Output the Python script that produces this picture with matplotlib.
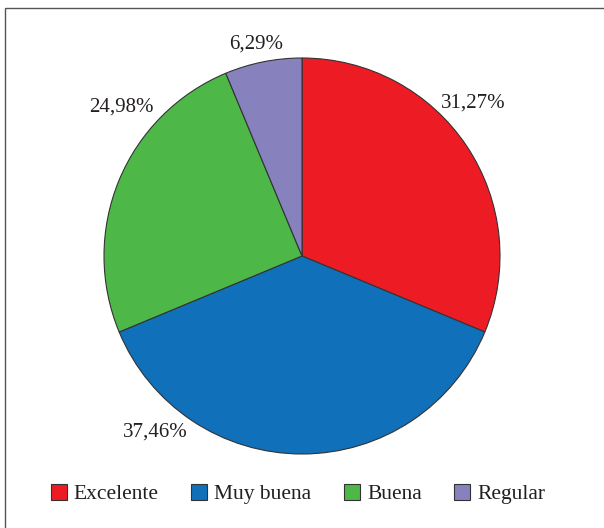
import matplotlib.pyplot as plt
from matplotlib.patches import Rectangle

plt.rcParams['font.family'] = ['Liberation Serif', 'DejaVu Serif']

categories = ['Excelente', 'Muy buena', 'Buena', 'Regular']
values = [31.27, 37.46, 24.98, 6.29]
labels = ['31,27%', '37,46%', '24,98%', '6,29%']
colors = ['#ED1C24', '#1070BA', '#4DB848', '#8782BE']

# where each percentage label sits (pie radius = 1)
label_pos = [(0.864, 0.773), (-0.742, -0.889), (-0.914, 0.753), (-0.232, 1.071)]

fig = plt.figure(figsize=(6.04, 5.28), dpi=100)

# frame round the chart, runs off the right and bottom edges
fig.patches.append(Rectangle((5 / 604, -0.05), 1.2, (528 - 8) / 528 + 0.05,
                             transform=fig.transFigure, fill=False,
                             edgecolor='#555555', linewidth=1.0))

r = 198
ax = fig.add_axes([(302 - r) / 604, (528 - 256 - r) / 528, 2 * r / 604, 2 * r / 528])
wedges, _ = ax.pie(values, colors=colors, startangle=90, counterclock=False,
                   radius=1, wedgeprops=dict(edgecolor='#333333', linewidth=0.8))
ax.set_xlim(-1, 1)
ax.set_ylim(-1, 1)
ax.set_aspect('equal')
ax.axis('off')

for lab, (x, y) in zip(labels, label_pos):
    ax.text(x, y, lab, ha='center', va='center', fontsize=15, color='#231F20')

fig.legend(wedges, categories, loc='center', bbox_to_anchor=(298 / 604, (528 - 494) / 528),
           ncol=4, frameon=False, fontsize=15.5, handlelength=0.75, handleheight=0.75,
           handletextpad=0.33, columnspacing=1.5, labelcolor='#231F20')

fig.savefig('out.png', dpi=100)
